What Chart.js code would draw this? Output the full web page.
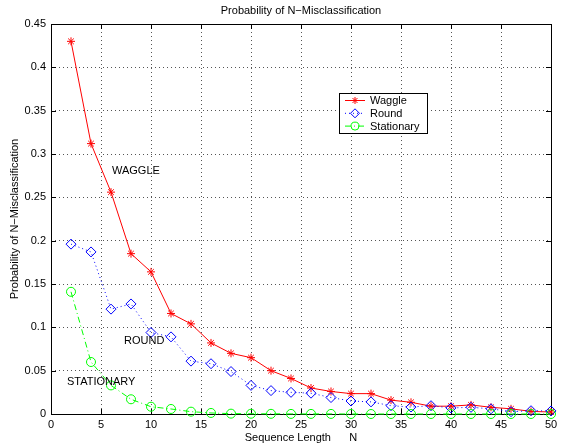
<!DOCTYPE html>
<html>
<head>
<meta charset="utf-8">
<script src="https://cdn.jsdelivr.net/npm/chart.js@4/dist/chart.umd.min.js"></script>
<style>
    html, body { margin: 0; padding: 0; background: #fff; }
    #wrap { width: 565px; height: 445px; }
</style>
</head>
<body>
<div id="wrap"><canvas id="chart" width="565" height="445"></canvas></div>
<script>
// Probability of N-Misclassification - MATLAB style line plot

const seqLength = [2, 4, 6, 8, 10, 12, 14, 16, 18, 20, 22, 24, 26, 28, 30, 32, 34, 36, 38, 40, 42, 44, 46, 48, 50];
const waggle = [0.430, 0.312, 0.256, 0.185, 0.164, 0.116, 0.104, 0.082, 0.070, 0.065, 0.050, 0.041, 0.030, 0.026, 0.0235, 0.0235, 0.016, 0.0135, 0.009, 0.009, 0.0105, 0.0077, 0.006, 0.003, 0.0023];
const round = [0.196, 0.187, 0.121, 0.127, 0.094, 0.089, 0.061, 0.058, 0.049, 0.033, 0.027, 0.025, 0.024, 0.019, 0.015, 0.014, 0.0096, 0.008, 0.0096, 0.007, 0.0077, 0.006, 0.0027, 0.0038, 0.0035];
const stationary = [0.141, 0.060, 0.033, 0.017, 0.0084, 0.0058, 0.0027, 0.0012, 0.0004, 0.0003, 0.0002, 0.0001, 0.0001, 0.0001, 0, 0, 0, 0, 0, 0, 0, 0, 0, 0, 0];
const xTicks = [0, 5, 10, 15, 20, 25, 30, 35, 40, 45, 50];
const yTicks = [0, 0.05, 0.1, 0.15, 0.2, 0.25, 0.3, 0.35, 0.4, 0.45];

const FONT = 'Liberation Sans, Arial, Helvetica, sans-serif';
const COLORS = { red: '#ff0000', blue: '#0000ff', green: '#00ff00' };

const toPoints = (ys) => seqLength.map((x, i) => ({ x: x, y: ys[i] }));

const series = [
    { label: 'Waggle', data: waggle, color: COLORS.red, dash: [], style: 'star', radius: 4, lineColor: COLORS.red },
    { label: 'Round', data: round, color: COLORS.blue, dash: [1, 3], style: 'rectRot', radius: 5, lineColor: COLORS.blue },
    { label: 'Stationary', data: stationary, color: COLORS.green, dash: [6, 3, 1, 3], style: 'circle', radius: 4.5, lineColor: COLORS.green }
];

/**
 * Box, inward ticks, text labels and legend like MATLAB
 */
const matlabFrame = {
    id: 'matlabFrame',
    beforeDatasetsDraw(chart) {
        const { ctx, chartArea: a, scales } = chart;
        ctx.save();
        ctx.strokeStyle = '#000';
        ctx.lineWidth = 1;
        ctx.setLineDash([]);
        ctx.strokeRect(a.left + 0.5, a.top + 0.5, a.right - a.left, a.bottom - a.top);

        const tl = 5;
        ctx.beginPath();
        xTicks.forEach(v => {
            const px = Math.round(scales.x.getPixelForValue(v)) + 0.5;
            ctx.moveTo(px, a.bottom); ctx.lineTo(px, a.bottom - tl);
            ctx.moveTo(px, a.top); ctx.lineTo(px, a.top + tl);
        });
        yTicks.forEach(v => {
            const py = Math.round(scales.y.getPixelForValue(v)) + 0.5;
            ctx.moveTo(a.left, py); ctx.lineTo(a.left + tl, py);
            ctx.moveTo(a.right, py); ctx.lineTo(a.right - tl, py);
        });
        ctx.stroke();
        ctx.restore();
    },
    afterDatasetsDraw(chart) {
        const { ctx } = chart;
        ctx.save();

        // text annotations
        ctx.fillStyle = '#000';
        ctx.font = '11px ' + FONT;
        ctx.textBaseline = 'middle';
        ctx.textAlign = 'left';
        ctx.fillText('WAGGLE', 112, 171);
        ctx.fillText('ROUND', 124, 341);
        ctx.fillText('STATIONARY', 67, 382);

        // legend
        const lx = 339, ly = 93, lw = 88, lh = 40;
        ctx.fillStyle = '#fff';
        ctx.fillRect(lx, ly, lw, lh);
        ctx.strokeStyle = '#000';
        ctx.lineWidth = 1;
        ctx.strokeRect(lx + 0.5, ly + 0.5, lw, lh);
        series.forEach((s, i) => {
            const y = ly + 7.5 + i * 12.8;
            ctx.strokeStyle = s.lineColor;
            ctx.setLineDash(s.dash);
            ctx.beginPath();
            ctx.moveTo(lx + 6, y); ctx.lineTo(lx + 26, y);
            ctx.stroke();
            ctx.setLineDash([]);
            ctx.strokeStyle = s.color;
            ctx.fillStyle = 'rgba(0,0,0,0)';
            Chart.helpers.drawPoint(ctx, {
                pointStyle: s.style, radius: s.radius - 0.5, borderWidth: 1, rotation: 0
            }, lx + 16, y);
            ctx.fillStyle = '#000';
            ctx.fillText(s.label, lx + 31, y + 0.5);
        });
        ctx.restore();
    }
};

new Chart(document.getElementById('chart').getContext('2d'), {
    type: 'line',
    data: {
        datasets: series.map(s => ({
            label: s.label,
            data: toPoints(s.data),
            borderColor: s.lineColor,
            backgroundColor: 'transparent',
            borderWidth: 1,
            borderDash: s.dash,
            pointStyle: s.style,
            pointRadius: s.radius,
            pointBorderColor: s.color,
            pointBackgroundColor: 'transparent',
            pointBorderWidth: 1,
            tension: 0,
            fill: false,
            clip: 6
        })).reverse()
    },
    options: {
        responsive: false,
        animation: false,
        devicePixelRatio: 1,
        layout: { padding: { left: 0, right: 14, top: 0, bottom: 0 } },
        plugins: {
            legend: { display: false },
            tooltip: { enabled: false },
            title: {
                display: true,
                fullSize: false,
                text: 'Probability of N\u2212Misclassification',
                color: '#000',
                font: { family: FONT, size: 11, weight: 'normal', lineHeight: 1.2 },
                padding: { top: 4, bottom: 6.8 }
            }
        },
        scales: {
            x: {
                type: 'linear',
                min: 0,
                max: 50,
                afterFit: (scale) => { scale.height = 31; },
                afterBuildTicks: (scale) => { scale.ticks = xTicks.map(v => ({ value: v })); },
                grid: { color: '#555', drawTicks: false, lineWidth: 1 },
                border: { display: false, dash: [1, 3] },
                ticks: { color: '#000', padding: 4, font: { family: FONT, size: 11 }, maxRotation: 0 },
                title: {
                    display: true,
                    text: 'Sequence Length      N',
                    color: '#000',
                    font: { family: FONT, size: 11 },
                    padding: { top: 0, bottom: 0 }
                }
            },
            y: {
                min: 0,
                max: 0.45,
                afterFit: (scale) => { scale.width = 51; },
                afterBuildTicks: (scale) => { scale.ticks = yTicks.map(v => ({ value: v })); },
                grid: { color: '#555', drawTicks: false, lineWidth: 1 },
                border: { display: false, dash: [1, 3] },
                ticks: {
                    color: '#000',
                    padding: 5,
                    font: { family: FONT, size: 11 },
                    callback: (v) => String(+v.toFixed(2))
                },
                title: {
                    display: true,
                    text: 'Probability of N\u2212Misclassification',
                    color: '#000',
                    font: { family: FONT, size: 11 },
                    padding: { top: 8, bottom: 0 }
                }
            }
        }
    },
    plugins: [matlabFrame]
});
</script>
</body>
</html>
